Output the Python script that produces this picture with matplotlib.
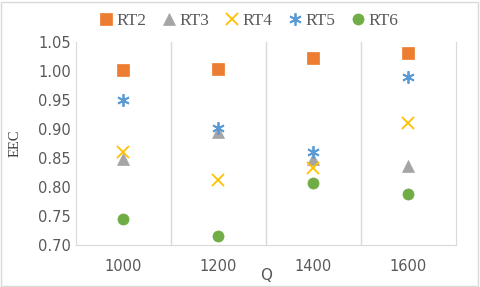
import numpy as np
import matplotlib.pyplot as plt

q_labels = ['1000', '1200', '1400', '1600']
rt2 = [1.001, 1.003, 1.022, 1.031]
rt3 = [0.849, 0.895, 0.849, 0.837]
rt4 = [0.860, 0.812, 0.833, 0.910]
rt5 = [0.950, 0.901, 0.860, 0.990]
rt6 = [0.745, 0.716, 0.807, 0.788]

series = [
    ('RT2', rt2, 's', '#ED7D31', 8),
    ('RT3', rt3, '^', '#A5A5A5', 8),
    ('RT4', rt4, 'x', '#FFC000', 9),
    ('RT5', rt5, (6, 2, 0), '#5B9BD5', 9),
    ('RT6', rt6, 'o', '#70AD47', 8),
]

fig = plt.figure(figsize=(4.8, 2.87), dpi=100)
ax = fig.add_axes([0.158, 0.146, 0.792, 0.708])

x = np.arange(len(q_labels))
for name, vals, mk, col, ms in series:
    ax.plot(x, vals, linestyle='none', marker=mk, color=col, markersize=ms,
            markeredgewidth=1.3 if mk in ('x', (6, 2, 0)) else 0.5, label=name)

ax.set_xlim(-0.5, len(q_labels) - 0.5)
ax.set_ylim(0.70, 1.05)
ax.set_yticks(np.arange(0.70, 1.051, 0.05))
ax.set_yticklabels([f'{v:.2f}' for v in np.arange(0.70, 1.051, 0.05)])
ax.set_xticks(x)
ax.set_xticklabels(q_labels)
ax.set_xticks(np.arange(0.5, len(q_labels) - 1), minor=True)
ax.grid(True, which='minor', axis='x', color='#D9D9D9', linewidth=1)
ax.tick_params(which='both', length=0)
ax.tick_params(axis='both', labelsize=10.5, labelcolor='#595959')
ax.tick_params(axis='x', pad=10)
ax.spines['top'].set_visible(False)
for s in ['left', 'right', 'bottom']:
    ax.spines[s].set_color('#D9D9D9')

ax.set_xlabel('Q', fontsize=11, color='#595959', labelpad=-4)
ax.set_ylabel('EEC', fontsize=10.5, family='Liberation Serif', color='#404040', labelpad=12)

leg = fig.legend(loc='upper center', bbox_to_anchor=(0.515, 1.01), ncol=5, frameon=False,
                 prop={'family': 'Liberation Serif', 'size': 12.5}, handletextpad=0.0,
                 columnspacing=0.7, handlelength=1.2, markerscale=1.0)
for t in leg.get_texts():
    t.set_color('#595959')

fig.patches.append(plt.Rectangle((0.002, 0.004), 0.994, 0.99, transform=fig.transFigure,
                                 fill=False, edgecolor='#D9D9D9', linewidth=1))

fig.savefig('out.png', dpi=100)
